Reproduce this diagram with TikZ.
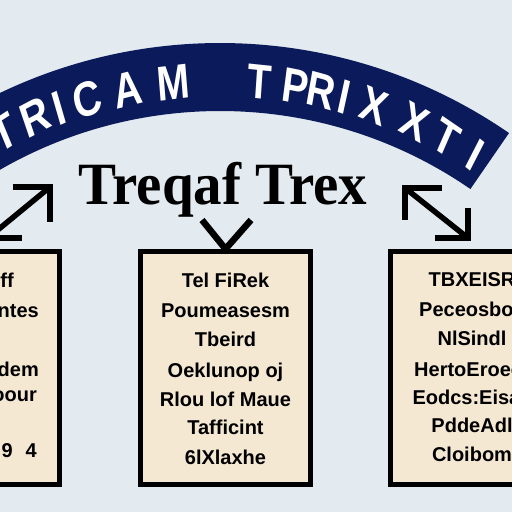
\documentclass[tikz,border=0pt]{standalone}
\usepackage{fontspec}
\setmainfont{Liberation Serif}
\setsansfont{Liberation Sans}
\usetikzlibrary{calc}
\definecolor{bg}{HTML}{E3EAF0}
\definecolor{navy}{HTML}{0B1A5B}
\definecolor{paper}{HTML}{F5E8D3}
\begin{document}
\begin{tikzpicture}[x=1pt,y=1pt,
  boxframe/.style={draw=black, line width=5pt, fill=paper, minimum width=170pt, minimum height=233pt, inner sep=0pt},
  boxtext/.style={font=\sffamily\bfseries\fontsize{20}{20}\selectfont, inner sep=0pt, anchor=base},
  lefttext/.style={font=\sffamily\bfseries\fontsize{20}{20}\selectfont, inner sep=0pt, anchor=base east},
  bannerletter/.style={text=white, font=\sffamily\bfseries\fontsize{49}{49}\selectfont, inner sep=0pt, xscale=0.8},
  heavy/.style={line width=5.5pt, line join=miter, draw=black}]
\useasboundingbox (0,0) rectangle (512,512);
\fill[bg] (0,0) rectangle (512,512);
\clip (0,0) rectangle (512,512);
% banner
\coordinate (C) at (220,-40);
\fill[navy] ($(C)+(55.4:509pt)$) arc[start angle=55.4,end angle=130,radius=509pt]
  -- ($(C)+(130:441pt)$) arc[start angle=130,end angle=55.4,radius=441pt] -- cycle;
\foreach \a/\l [count=\i] in {117.3/T,113.0/R,109.9/I,106.3/C,101.3/A,95.7/M,85.2/T,80.8/P,77.6/R,74.7/I,70.9/X,65.6/X,61.3/T,57.3/I}
  \node[bannerletter, rotate=\a-90] (b\i) at ($(C)+(\a:472pt)$) {\l};
% title
\node[font=\rmfamily\bfseries\fontsize{60}{60}\selectfont, anchor=base, inner sep=0pt, xscale=0.95] (title) at (223,307) {Treqaf Trex};
% boxes
\node[boxframe] (lbox) at (-25.5,144) {};
\node[boxframe] (cbox) at (225.5,144) {};
\node[boxframe] (rbox) at (475,144) {};
% center box text
\foreach \t/\y [count=\i] in {Tel FiRek/224,Poumeasesm/194,Tbeird/165,Oeklunop oj/134,Rlou lof Maue/105,Tafficint/77,6lXlaxhe/47}
  \node[boxtext] (c\i) at (225.5,\y) {\t};
% right box text
\foreach \t/\y [count=\i] in {TBXEISR/225,Peceosbos/195,NlSindl/166,HertoEroeer/135,Eodcs:Eisae/107,PddeAdl/79,Cloibom/50}
  \node[boxtext] (r\i) at (472,\y) {\t};
% left box text
\node[lefttext] (l1) at (14,224) {Teff};
\node[lefttext] (l2) at (39,194) {Fointes};
\node[lefttext] (l3) at (39,135) {Sidem};
\node[lefttext] (l4) at (37,110) {Scoour};
\node[lefttext] (l5) at (37,54) {9\hspace{13pt}4};
% left arrow
\coordinate (la1) at (50,325);
\coordinate (la2) at (-12,274);
\draw[heavy] (la2) -- (la1);
\draw[heavy] ($(la1)+(-37,0)$) -- (la1) -- ($(la1)+(0,-35)$);
\draw[heavy] ($(la2)+(0,35)$) -- (la2) -- ($(la2)+(34,0)$);
% right arrow
\coordinate (ra1) at (405,324);
\coordinate (ra2) at (468,274);
\draw[heavy] (ra1) -- (ra2);
\draw[heavy] ($(ra1)+(37,0)$) -- (ra1) -- ($(ra1)+(0,-32)$);
\draw[heavy] ($(ra2)+(-33,0)$) -- (ra2) -- ($(ra2)+(0,30)$);
% middle chevron
\coordinate (vl) at (202,292);
\coordinate (vr) at (251,292);
\draw[heavy, line width=6.5pt] (vl) -- (cbox.north) -- (vr);
\end{tikzpicture}
\end{document}
